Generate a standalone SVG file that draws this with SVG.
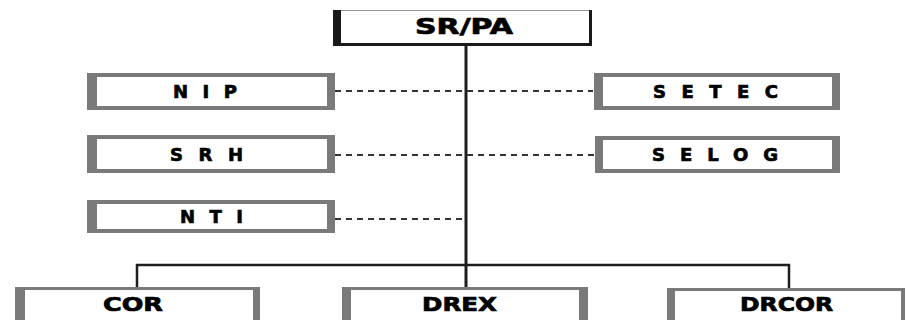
<svg xmlns="http://www.w3.org/2000/svg" width="907" height="320" viewBox="0 0 907 320">
<style>
.frame{fill:#7a7a7a}
.inner{fill:#ffffff}
.t{font-family:"DejaVu Sans","Liberation Sans",Arial,sans-serif;font-weight:bold;fill:#000;stroke:#000;stroke-width:0.7;text-anchor:middle}
.sp{font-size:18px}
.bg{font-size:19px}
.solid{stroke:#1e1e1e;fill:none}
.dash{stroke:#333;stroke-width:2;stroke-dasharray:6 5;fill:none}
</style>
<rect width="907" height="320" fill="#fff"/>
<g id="connectors">
<line class="solid" x1="466" y1="45" x2="466" y2="288" stroke-width="3"/>
<polyline class="solid" points="137,288 137,265 789,265 789,288" stroke-width="2.5"/>
<line class="dash" x1="335" y1="91" x2="593" y2="91"/>
<line class="dash" x1="335" y1="155" x2="595" y2="155"/>
<line class="dash" x1="335" y1="219" x2="466" y2="219"/>
</g>
<g id="srpa">
<rect x="333" y="10" width="259" height="36" fill="#1a1a1a"/>
<rect x="341" y="11" width="248" height="32" class="inner"/>
<rect x="341" y="10" width="248" height="1" fill="#999"/>
<text class="t" x="464" y="34" font-size="21" textLength="98" lengthAdjust="spacingAndGlyphs">SR/PA</text>
</g>
<g id="nip">
<rect class="frame" x="87" y="73" width="248" height="37"/>
<rect class="inner" x="97" y="77" width="230" height="29"/>
<text class="t sp" x="205" y="98" textLength="64" lengthAdjust="spacing">NIP</text>
</g>
<g id="srh">
<rect class="frame" x="87" y="135" width="248" height="38"/>
<rect class="inner" x="97" y="139" width="230" height="30"/>
<text class="t sp" x="206.5" y="161" textLength="73" lengthAdjust="spacing">SRH</text>
</g>
<g id="nti">
<rect class="frame" x="87" y="200" width="248" height="33"/>
<rect class="inner" x="97" y="204" width="230" height="25"/>
<text class="t sp" x="211.5" y="223" textLength="63" lengthAdjust="spacing">NTI</text>
</g>
<g id="setec">
<rect class="frame" x="594" y="73" width="246" height="37"/>
<rect class="inner" x="603" y="77" width="229" height="29"/>
<text class="t sp" x="715.5" y="98" textLength="125" lengthAdjust="spacing">SETEC</text>
</g>
<g id="selog">
<rect class="frame" x="595" y="136" width="245" height="37"/>
<rect class="inner" x="603" y="140" width="229" height="29"/>
<text class="t sp" x="715" y="161" textLength="126" lengthAdjust="spacing">SELOG</text>
</g>
<g id="cor">
<rect class="frame" x="15" y="287" width="245" height="40"/>
<rect class="inner" x="25" y="290" width="228" height="40"/>
<text class="t bg" x="133" y="311" textLength="60" lengthAdjust="spacingAndGlyphs">COR</text>
</g>
<g id="drex">
<rect class="frame" x="342" y="287" width="246" height="40"/>
<rect class="inner" x="351" y="290" width="228" height="40"/>
<text class="t bg" x="459.5" y="311" textLength="75" lengthAdjust="spacingAndGlyphs">DREX</text>
</g>
<g id="drcor">
<rect class="frame" x="667" y="288" width="238" height="40"/>
<rect class="inner" x="675" y="291" width="226" height="40"/>
<text class="t bg" x="786.5" y="311" textLength="93" lengthAdjust="spacingAndGlyphs">DRCOR</text>
</g>
</svg>
